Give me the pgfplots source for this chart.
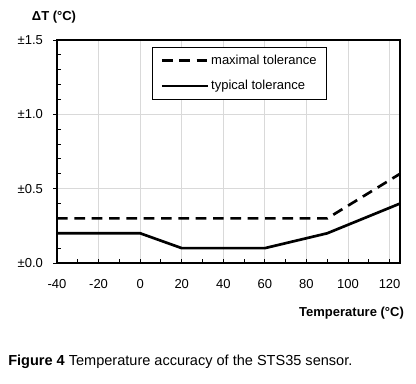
\documentclass[border=0pt]{standalone}
\usepackage{pgfplots}
\pgfplotsset{compat=1.18}
\usepackage{fontspec}
\setmainfont{Liberation Sans}
\begin{document}
\begin{tikzpicture}[font=\fontsize{9.75}{11.5}\selectfont]
\path[use as bounding box] (-42.75pt,-90pt) rectangle (269.25pt,197.25pt);
\begin{axis}[
 at={(0pt,0pt)}, anchor=south west, scale only axis,
 width=257.25pt, height=167.25pt,
 xmin=-40, xmax=125, ymin=0, ymax=1.5,
 xtick={-40,-20,0,20,40,60,80,100,120},
 xticklabels={-40,-20,0,20,40,60,80,100,120},
 ytick={0,0.5,1,1.5}, yticklabels={±0.0,±0.5,±1.0,±1.5},
 minor x tick num=1, minor y tick num=4,
 xtick pos=bottom, ytick pos=left,
 xtick align=inside, ytick align=outside,
 major tick length=3pt, minor tick length=3pt,
 minor y tick style={xshift=3pt},
 xticklabel style={yshift=-9pt},
 yticklabel style={xshift=-4pt},
 tick style={black, line width=0.75pt},
 grid=major, major grid style={black!15, line width=0.75pt},
 axis line style={line width=2pt},
 /pgf/number format/assume math mode=true,
 legend style={at={(0.277,0.9686)}, anchor=north west, draw=black, line width=0.75pt,
   inner xsep=6pt, inner ysep=4pt, row sep=7.5pt, nodes={inner sep=1.5pt}},
 legend cell align=left,
 legend image code/.code={\draw[#1] (0pt,0pt) -- (34.5pt,0pt);},
]
\addplot[black, line width=2pt, dash pattern=on 8pt off 5pt] coordinates {(-40,0.3) (90,0.3) (125,0.6)};
\addlegendentry{maximal tolerance}
\addplot[black, line width=2pt] coordinates {(-40,0.2) (0,0.2) (20,0.1) (60,0.1) (90,0.2) (125,0.4)};
\addlegendentry{typical tolerance}
\end{axis}
\node at (-2.25pt,184.5pt) {\bfseries ΔT (°C)};
\node at (220.9pt,-37.5pt) {\bfseries Temperature (°C)};
\node[anchor=west, inner sep=0pt, font=\fontsize{10.9}{12}\selectfont] at (-36.75pt,-74.25pt) {\textbf{Figure 4} Temperature accuracy of the STS35 sensor.};
\end{tikzpicture}
\end{document}
